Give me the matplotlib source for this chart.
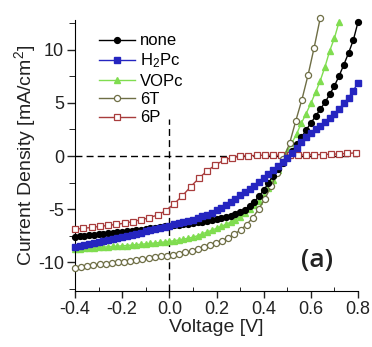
import matplotlib
matplotlib.use('Agg')
from matplotlib import pyplot as plt
from matplotlib.ticker import MultipleLocator
import numpy as np

plt.rcParams['font.family'] = ['Liberation Sans', 'DejaVu Sans']
plt.rcParams['mathtext.fontset'] = 'custom'
plt.rcParams['mathtext.rm'] = 'Liberation Sans'
plt.rcParams['mathtext.it'] = 'Liberation Sans:italic'

# none / H2Pc / VOPc measured every 0.02 V
v_none = [round(-0.40 + 0.02 * i, 3) for i in range(61)]
j_none = [-7.62, -7.57, -7.52, -7.47, -7.42, -7.37, -7.32, -7.27, -7.22, -7.17,
          -7.12, -7.07, -7.02, -6.97, -6.92, -6.86, -6.80, -6.74, -6.68, -6.62,
          -6.56, -6.51, -6.46, -6.41, -6.36, -6.30, -6.24, -6.18, -6.11, -6.04,
          -5.96, -5.87, -5.77, -5.65, -5.50, -5.30, -5.05, -4.72, -4.30, -3.80,
          -3.22, -2.55, -1.85, -1.20, -0.65, -0.15, 0.45, 1.10, 1.75, 2.45,
          3.10, 3.75, 4.40, 5.05, 5.80, 6.60, 7.55, 8.60, 9.70, 10.90, 12.60]

v_h2pc = [round(-0.40 + 0.02 * i, 3) for i in range(61)]
j_h2pc = [-8.60, -8.50, -8.40, -8.30, -8.20, -8.10, -8.00, -7.90, -7.80, -7.70,
          -7.60, -7.50, -7.40, -7.30, -7.20, -7.10, -7.00, -6.90, -6.78, -6.66,
          -6.55, -6.44, -6.33, -6.22, -6.10, -5.98, -5.85, -5.68, -5.52, -5.32,
          -5.10, -4.85, -4.58, -4.30, -4.00, -3.70, -3.42, -3.12, -2.78, -2.45,
          -2.10, -1.72, -1.35, -0.98, -0.60, -0.18, 0.30, 0.80, 1.30, 1.75,
          2.15, 2.50, 2.85, 3.20, 3.58, 4.00, 4.45, 4.95, 5.50, 6.15, 6.90]

v_vopc = [round(-0.40 + 0.02 * i, 3) for i in range(57)]
j_vopc = [-8.75, -8.72, -8.69, -8.66, -8.63, -8.60, -8.57, -8.54, -8.51, -8.48,
          -8.45, -8.42, -8.38, -8.34, -8.30, -8.26, -8.22, -8.18, -8.13, -8.08,
          -8.03, -7.97, -7.90, -7.82, -7.73, -7.63, -7.50, -7.32, -7.15, -6.98,
          -6.80, -6.62, -6.42, -6.22, -5.98, -5.70, -5.35, -5.00, -4.65, -4.25,
          -3.75, -3.05, -2.25, -1.35, -0.25, 0.45, 1.25, 2.10, 3.10, 4.00,
          4.95, 6.00, 7.10, 8.40, 9.90, 11.10, 12.65]

# 6T every 0.026 V, 6P every 0.035 V
v_6t = [round(-0.40 + 0.026 * i, 3) for i in range(41)]
j_6t = [-10.50, -10.42, -10.35, -10.27, -10.20, -10.13, -10.06, -10.00, -9.93, -9.86,
        -9.78, -9.70, -9.62, -9.54, -9.45, -9.37, -9.28, -9.18, -9.06, -8.92,
        -8.75, -8.56, -8.36, -8.15, -7.95, -7.70, -7.35, -6.95, -6.45, -5.80,
        -4.95, -4.00, -2.80, -1.60, -0.25, 1.20, 3.30, 5.30, 7.60, 10.20, 13.00]

v_6p = [round(-0.40 + 0.035 * i, 3) for i in range(35)]
j_6p = [-6.90, -6.80, -6.72, -6.62, -6.53, -6.43, -6.32, -6.17, -6.00, -5.80,
        -5.55, -5.15, -4.50, -3.75, -2.90, -2.10, -1.40, -0.85, -0.40, -0.15,
        -0.02, 0.03, 0.06, 0.08, 0.08, 0.08, 0.08, 0.10, 0.10, 0.12,
        0.14, 0.17, 0.20, 0.24, 0.30]

fig = plt.figure(figsize=(3.72, 3.47), dpi=100)
ax = fig.add_axes([0.2016, 0.1614, 0.7608, 0.781])

ax.axhline(0, color='black', ls=(0, (5, 3)), lw=1, zorder=1)
ax.axvline(0, ymax=0.635, color='black', ls=(0, (5, 3)), lw=1, zorder=1)

ax.plot(v_none, j_none, '-o', color='black', ms=4.2, lw=1, label='none', clip_on=False, zorder=3)
ax.plot(v_h2pc, j_h2pc, '-s', color='#2525c0', ms=4.2, lw=1, label='H$_2$Pc', clip_on=False, zorder=4)
ax.plot(v_vopc, j_vopc, '-^', color='#80dd50', ms=4.2, lw=1, label='VOPc', clip_on=False, zorder=2.5)
ax.plot(v_6t, j_6t, '-o', color='#6e6e45', mfc='white', mec='#6e6e45', ms=4.4, mew=0.9, lw=1,
        label='6T', clip_on=False, zorder=2.8)
ax.plot(v_6p, j_6p, '-s', color='#a83c3c', mfc='white', mec='#a83c3c', ms=4.4, mew=0.9, lw=1,
        label='6P', clip_on=False, zorder=2.7)

ax.set_xlim(-0.4, 0.8)
ax.set_ylim(-12.7, 12.8)
ax.xaxis.set_major_locator(MultipleLocator(0.2))
ax.xaxis.set_minor_locator(MultipleLocator(0.1))
ax.yaxis.set_major_locator(MultipleLocator(5))
ax.yaxis.set_minor_locator(MultipleLocator(2.5))
ax.set_xticks([-0.4, -0.2, 0.0, 0.2, 0.4, 0.6, 0.8])
ax.set_xticklabels(['-0.4', '-0.2', '0.0', '0.2', '0.4', '0.6', '0.8'])
ax.set_yticks([-10, -5, 0, 5, 10])
ax.set_yticklabels(['-10', '-5', '0', '5', '10'])

for s in ['top', 'right']:
    ax.spines[s].set_visible(False)
ax.tick_params(axis='both', which='major', labelsize=13, colors='#222222', width=1)
ax.tick_params(axis='x', which='major', direction='out', length=5, pad=2)
ax.tick_params(axis='x', which='minor', direction='in', length=3)
ax.tick_params(axis='y', which='major', direction='out', length=6, pad=2)
ax.tick_params(axis='y', which='minor', direction='out', length=4)

ax.set_xlabel('Voltage [V]', fontsize=14, color='#222222', labelpad=1)
ax.set_ylabel('Current Density [mA/cm$^2$]', fontsize=14, color='#222222', labelpad=0)

ax.legend(loc='upper left', bbox_to_anchor=(0.06, 0.975), frameon=False, fontsize=12,
          handlelength=2.2, handletextpad=0.3, labelspacing=0.2, borderaxespad=0)

ax.text(0.855, 0.114, '(a)', transform=ax.transAxes, fontsize=19, fontweight='semibold',
        family=['Open Sans', 'DejaVu Sans'], ha='center', va='center', color='#222222')

fig.savefig('out.png', dpi=100)
